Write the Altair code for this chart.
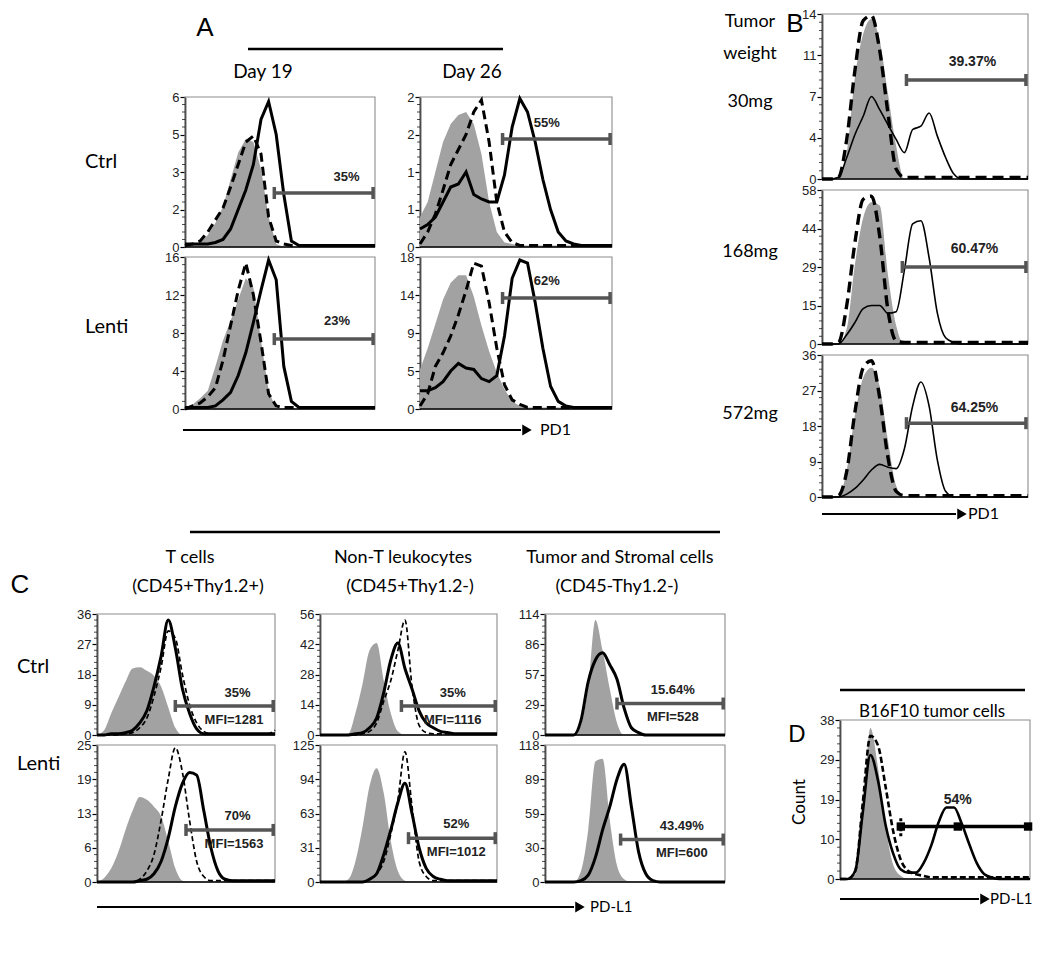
import altair as alt
import pandas as pd

FONT = "Liberation Sans"
HFONT = "Lato"

X_GRID = [0, 4, 8, 12, 16, 20, 24, 28, 32, 36, 40, 44, 48, 52, 56, 60, 64, 68, 72, 76, 80, 84, 88, 92, 96, 100]
MINOR = [5, 10, 15, 20, 30, 35, 40, 45, 55, 60, 65, 70, 80, 85, 90, 95]

# ---------------- Panel A (PD1, Day 19 / Day 26) ----------------
A_C19_TICKS = ["0", "2", "3", "5", "6"]
A_C19_GRAY = [0, 1, 3, 8, 16, 27, 45, 63, 72, 70, 52, 20, 2, 0, 0, 0, 0, 0, 0, 0, 0, 0, 0, 0, 0, 0]
A_C19_DASH = [1, 2, 4, 10, 18, 26, 40, 55, 70, 74, 62, 20, 4, 2, 1, 1, 1, 1, 1, 1, 1, 1, 1, 1, 1, 1]
A_C19_SOLID = [2, 2, 2, 2, 3, 5, 12, 25, 38, 55, 85, 97, 75, 35, 4, 1, 1, 1, 1, 1, 1, 1, 1, 1, 1, 1]

A_C26_TICKS = ["0", "1", "1", "2", "2"]
A_C26_GRAY = [20, 30, 50, 70, 82, 88, 90, 82, 62, 30, 10, 3, 2, 1, 1, 1, 1, 1, 1, 1, 1, 1, 1, 1, 1, 1]
A_C26_DASH = [2, 10, 22, 38, 55, 65, 75, 90, 98, 70, 30, 10, 3, 1, 1, 1, 1, 1, 1, 1, 1, 1, 1, 1, 1, 1]
A_C26_SOLID = [12, 15, 20, 30, 40, 42, 50, 35, 32, 30, 30, 48, 80, 99, 90, 70, 45, 25, 10, 4, 2, 1, 1, 1, 1, 1]

A_L19_TICKS = ["0", "4", "8", "12", "16"]
A_L19_GRAY = [0, 3, 7, 12, 28, 45, 58, 72, 86, 80, 45, 12, 0, 0, 0, 0, 0, 0, 0, 0, 0, 0, 0, 0, 0, 0]
A_L19_DASH = [0, 2, 4, 8, 14, 32, 55, 78, 96, 75, 44, 10, 2, 1, 1, 1, 1, 1, 1, 1, 1, 1, 1, 1, 1, 1]
A_L19_SOLID = [1, 1, 1, 1, 2, 6, 11, 22, 37, 57, 78, 98, 85, 28, 5, 1, 1, 1, 1, 1, 1, 1, 1, 1, 1, 1]

A_L26_TICKS = ["0", "5", "9", "14", "18"]
A_L26_GRAY = [26, 40, 56, 72, 83, 88, 88, 74, 55, 38, 24, 13, 5, 2, 1, 1, 1, 1, 1, 1, 1, 1, 1, 1, 1, 1]
A_L26_DASH = [2, 10, 28, 37, 48, 62, 78, 96, 94, 70, 40, 16, 6, 3, 1, 1, 1, 1, 1, 1, 1, 1, 1, 1, 1, 1]
A_L26_SOLID = [12, 12, 14, 18, 25, 30, 27, 26, 20, 18, 22, 48, 86, 98, 96, 70, 40, 15, 5, 2, 1, 1, 1, 1, 1, 1]

# ---------------- Panel B (tumor weight) ----------------
B30_TICKS = ["0", "4", "7", "11", "14"]
B30_GRAY = [0, 0, 0, 16, 62, 88, 97, 84, 52, 20, 0, 0, 0, 0, 0, 0, 0, 0, 0, 0, 0, 0, 0, 0, 0, 0]
B30_DASH = [0, 0, 1, 24, 66, 96, 99, 78, 40, 6, 1, 1, 1, 1, 1, 1, 1, 1, 1, 1, 1, 1, 1, 1, 1, 1]
B30_SOLID = [0, 0, 1, 13, 27, 38, 50, 42, 33, 24, 16, 30, 32, 40, 26, 13, 3, 0, 0, 0, 0, 0, 0, 0, 0, 0]

B168_TICKS = ["0", "15", "29", "44", "58"]
B168_GRAY = [0, 0, 0, 10, 52, 82, 92, 90, 45, 12, 0, 0, 0, 0, 0, 0, 0, 0, 0, 0, 0, 0, 0, 0, 0, 0]
B168_DASH = [0, 0, 1, 25, 66, 94, 96, 70, 22, 2, 1, 1, 1, 1, 1, 1, 1, 1, 1, 1, 1, 1, 1, 1, 1, 1]
B168_SOLID = [0, 0, 0, 6, 14, 23, 25, 25, 20, 21, 48, 78, 80, 56, 20, 4, 1, 0, 0, 0, 0, 0, 0, 0, 0, 0]

B572_TICKS = ["0", "9", "18", "27", "36"]
B572_GRAY = [0, 0, 0, 19, 58, 84, 91, 78, 40, 8, 0, 0, 0, 0, 0, 0, 0, 0, 0, 0, 0, 0, 0, 0, 0, 0]
B572_DASH = [0, 0, 1, 18, 60, 91, 96, 70, 28, 4, 1, 1, 1, 1, 1, 1, 1, 1, 1, 1, 1, 1, 1, 1, 1, 1]
B572_SOLID = [0, 0, 0, 2, 6, 12, 19, 23, 21, 20, 34, 64, 81, 64, 26, 4, 0, 0, 0, 0, 0, 0, 0, 0, 0, 0]

# ---------------- Panel C (PD-L1 by cell type) ----------------
CT_CTRL_TICKS = ["0", "9", "18", "27", "36"]
CT_CTRL_GRAY = [0, 4, 18, 31, 44, 55, 56, 53, 49, 40, 23, 6, 0, 0, 0, 0, 0, 0, 0, 0, 0, 0, 0, 0, 0, 0]
CT_CTRL_DASH = [0, 0, 0, 0, 1, 2, 6, 14, 32, 56, 86, 80, 50, 25, 10, 3, 1, 1, 1, 1, 1, 1, 1, 1, 1, 4]
CT_CTRL_SOLID = [0, 0, 1, 1, 2, 4, 10, 20, 40, 65, 95, 72, 38, 18, 5, 1, 1, 1, 1, 1, 1, 1, 1, 1, 1, 1]

CT_LENTI_TICKS = ["0", "6", "13", "19", "25"]
CT_LENTI_GRAY = [0, 3, 10, 22, 38, 52, 62, 60, 55, 48, 30, 10, 1, 0, 0, 0, 0, 0, 0, 0, 0, 0, 0, 0, 0, 0]
CT_LENTI_DASH = [0, 0, 0, 0, 0, 0, 2, 8, 20, 45, 75, 98, 80, 45, 15, 4, 1, 1, 1, 1, 1, 1, 1, 1, 1, 1]
CT_LENTI_SOLID = [0, 0, 0, 0, 0, 0, 1, 2, 6, 15, 32, 55, 72, 80, 78, 52, 25, 8, 2, 1, 1, 1, 1, 1, 1, 1]

CN_CTRL_TICKS = ["0", "14", "28", "42", "56"]
CN_CTRL_GRAY = [0, 0, 0, 0, 1, 18, 42, 70, 76, 45, 18, 3, 0, 0, 0, 0, 0, 0, 0, 0, 0, 0, 0, 0, 0, 0]
CN_CTRL_DASH = [0, 0, 0, 0, 0, 0, 1, 3, 10, 28, 45, 70, 95, 40, 8, 2, 1, 1, 1, 1, 1, 1, 1, 1, 1, 1]
CN_CTRL_SOLID = [0, 0, 0, 0, 0, 1, 2, 6, 14, 35, 62, 76, 55, 38, 20, 10, 6, 3, 2, 1, 1, 1, 1, 1, 1, 1]

CN_LENTI_TICKS = ["0", "31", "63", "94", "125"]
CN_LENTI_GRAY = [0, 0, 0, 0, 2, 15, 40, 70, 83, 65, 30, 8, 1, 0, 0, 0, 0, 0, 0, 0, 0, 0, 0, 0, 0, 0]
CN_LENTI_DASH = [0, 0, 0, 0, 0, 0, 0, 2, 6, 15, 35, 60, 95, 55, 15, 4, 1, 1, 1, 1, 1, 1, 1, 1, 1, 1]
CN_LENTI_SOLID = [0, 0, 0, 0, 0, 0, 0, 2, 6, 20, 38, 58, 72, 50, 25, 10, 4, 2, 1, 1, 1, 1, 1, 1, 1, 1]

CS_CTRL_TICKS = ["0", "29", "57", "86", "114"]
CS_CTRL_GRAY = [0, 0, 0, 0, 0, 8, 40, 95, 70, 38, 10, 0, 0, 0, 0, 0, 0, 0, 0, 0, 0, 0, 0, 0, 0, 0]
CS_CTRL_SOLID = [0, 0, 0, 0, 0, 12, 44, 62, 68, 58, 46, 22, 6, 2, 0, 0, 0, 0, 0, 0, 0, 0, 0, 0, 0, 0]

CS_LENTI_TICKS = ["0", "30", "59", "89", "118"]
CS_LENTI_GRAY = [0, 0, 0, 0, 0, 8, 38, 88, 90, 45, 12, 2, 0, 0, 0, 0, 0, 0, 0, 0, 0, 0, 0, 0, 0, 0]
CS_LENTI_SOLID = [0, 0, 0, 0, 0, 1, 5, 18, 38, 55, 75, 86, 55, 22, 6, 1, 0, 0, 0, 0, 0, 0, 0, 0, 0, 0]

# ---------------- Panel D (B16F10) ----------------
D_TICKS = ["0", "10", "19", "29", "38"]
D_GRAY = [0, 0, 3, 40, 95, 70, 33, 9, 2, 0, 0, 0, 0, 0, 0, 0, 0, 0, 0, 0, 0, 0, 0, 0, 0, 0]
D_DASH = [0, 0, 5, 48, 90, 84, 58, 30, 12, 5, 3, 2, 1, 1, 1, 1, 1, 1, 1, 1, 1, 1, 1, 1, 1, 1]
D_SOLID = [0, 0, 5, 42, 78, 62, 34, 16, 6, 4, 4, 10, 21, 36, 45, 45, 35, 22, 10, 3, 1, 0, 0, 0, 0, 0]

ONE = pd.DataFrame({"k": [0]})
OFF = 8  # page margin


def panel(box, ticks, gray, solid, dash, gate, labels, solid_w=2.8, dash_w=2.8,
          dash_pat=(9, 5), interp="linear", gate_color="#555555", squares=False,
          label_size=13, sq_mid=None):
    x0, y0, x1, y1 = [v - OFF for v in box]
    h = y1 - y0
    xs = alt.Scale(domain=[0, 100], range=[x0, x1], nice=False, zero=False)
    ys = alt.Scale(domain=[0, 100], range=[y1, y0], nice=False, zero=False)
    expr = "[" + ",".join("'%s'" % t for t in ticks) + "][round(datum.value/25)]"
    yax = alt.Axis(orient="left", offset=-x0, values=[0, 25, 50, 75, 100], labelExpr=expr,
                   title=None, grid=False, domainColor="black", domainWidth=1.6,
                   tickColor="black", tickSize=5, tickWidth=1.2, labelFont=FONT,
                   labelFontSize=13, labelColor="#222222", labelPadding=1,
                   labelFlush=False, labelBound=False, labelOverlap=False)

    def XF(f):
        return alt.X(f, scale=xs, axis=None)

    def YF(f):
        return alt.Y(f, scale=ys, axis=yax)

    def XD(v):
        return alt.XDatum(v, scale=xs, axis=None)

    def YD(v):
        return alt.YDatum(v, scale=ys, axis=yax)

    d = {"x": X_GRID, "g": gray, "s": solid}
    if dash is not None:
        d["d"] = dash
    df = pd.DataFrame(d)
    layers = []
    layers.append(alt.Chart(ONE).mark_rect(filled=False, stroke="#8c8c8c", strokeWidth=1.1).encode(
        x=XD(0), x2=alt.X2Datum(100), y=YD(0), y2=alt.Y2Datum(100)))
    layers.append(alt.Chart(df).mark_area(color="#a2a2a2", interpolate=interp).encode(
        x=XF("x:Q"), y=YF("g:Q")))
    if dash is not None:
        layers.append(alt.Chart(df).mark_line(color="black", strokeWidth=dash_w,
                                              strokeDash=list(dash_pat), interpolate=interp).encode(
            x=XF("x:Q"), y=YF("d:Q")))
    layers.append(alt.Chart(df).mark_line(color="black", strokeWidth=solid_w, interpolate=interp).encode(
        x=XF("x:Q"), y=YF("s:Q")))
    layers.append(alt.Chart(ONE).mark_rule(color="black", strokeWidth=1.6).encode(
        x=XD(0), x2=alt.X2Datum(100), y=YD(0)))
    layers.append(alt.Chart(pd.DataFrame({"m": MINOR})).mark_tick(
        orient="horizontal", size=3, thickness=1, color="black", xOffset=-1.5).encode(
        x=XD(0), y=YF("m:Q")))
    g1, g2, gy = gate
    c = 6.0 / h * 100
    layers.append(alt.Chart(ONE).mark_rule(color=gate_color, strokeWidth=3.5).encode(
        x=XD(g1), x2=alt.X2Datum(g2), y=YD(gy)))
    if squares:
        for gx in (g1, sq_mid, g2):
            layers.append(alt.Chart(ONE).mark_square(color="black", size=70, opacity=1).encode(
                x=XD(gx), y=YD(gy)))
        layers.append(alt.Chart(ONE).mark_rule(color=gate_color, strokeWidth=3, strokeDash=[3, 2]).encode(
            x=XD(g1), y=YD(gy - 1.6 * c), y2=alt.Y2Datum(gy + 1.6 * c)))
    else:
        for gx in (g1, g2):
            layers.append(alt.Chart(ONE).mark_rule(color=gate_color, strokeWidth=3.5).encode(
                x=XD(gx), y=YD(gy - c), y2=alt.Y2Datum(gy + c)))
    for t, lx, ly in labels:
        layers.append(alt.Chart(ONE).mark_text(font=FONT, fontWeight="bold", fontSize=label_size,
                                               color="#222222", baseline="middle").encode(
            x=XD(lx), y=YD(ly), text=alt.value(t)))
    return alt.layer(*layers)


def txt(s, x, y, size=17, align="center", font=HFONT, angle=0, weight="normal"):
    return alt.Chart(ONE).mark_text(text=s, fontSize=size, font=font, align=align,
                                    baseline="middle", angle=angle, fontWeight=weight,
                                    color="black").encode(x=alt.value(x - OFF), y=alt.value(y - OFF))


def hline(x1, x2, y, w=2.2):
    return alt.Chart(ONE).mark_rule(color="black", strokeWidth=w).encode(
        x=alt.value(x1 - OFF), x2=alt.value(x2 - OFF), y=alt.value(y - OFF))


def arrow(x1, x2, y):
    return [hline(x1, x2 - 6, y, 1.8),
            alt.Chart(ONE).mark_point(shape="triangle-right", filled=True, size=120, color="black",
                                      opacity=1).encode(x=alt.value(x2 - OFF), y=alt.value(y - OFF))]


A_STYLE = dict(solid_w=3.0, dash_w=3.0, dash_pat=(9, 5), interp="linear")
B_STYLE = dict(solid_w=1.6, dash_w=3.4, dash_pat=(11, 6), interp="monotone", label_size=14)
C_STYLE = dict(solid_w=3.0, dash_w=1.7, dash_pat=(5, 3), interp="monotone")

panels = [
    panel((185, 95, 375, 245), A_C19_TICKS, A_C19_GRAY, A_C19_SOLID, A_C19_DASH,
          (47, 99, 36), [("35%", 85, 47)], **A_STYLE),
    panel((420, 95, 612, 245), A_C26_TICKS, A_C26_GRAY, A_C26_SOLID, A_C26_DASH,
          (43, 99, 72), [("55%", 66, 83)], **A_STYLE),
    panel((185, 255, 375, 407), A_L19_TICKS, A_L19_GRAY, A_L19_SOLID, A_L19_DASH,
          (47, 99, 46), [("23%", 80, 58)], **A_STYLE),
    panel((420, 255, 612, 407), A_L26_TICKS, A_L26_GRAY, A_L26_SOLID, A_L26_DASH,
          (43, 99, 73), [("62%", 66, 84)], **A_STYLE),
    panel((822, 12, 1028, 177), B30_TICKS, B30_GRAY, B30_SOLID, B30_DASH,
          (41, 99, 60), [("39.37%", 73, 71)], **B_STYLE),
    panel((822, 188, 1028, 342), B168_TICKS, B168_GRAY, B168_SOLID, B168_DASH,
          (39, 99, 50), [("60.47%", 74, 62)], **B_STYLE),
    panel((822, 353, 1028, 495), B572_TICKS, B572_GRAY, B572_SOLID, B572_DASH,
          (41, 99, 52), [("64.25%", 74, 63)], **B_STYLE),
    panel((97, 612, 275, 733), CT_CTRL_TICKS, CT_CTRL_GRAY, CT_CTRL_SOLID, CT_CTRL_DASH,
          (44, 99, 24), [("35%", 79, 35), ("MFI=1281", 77, 12)], **C_STYLE),
    panel((97, 743, 275, 880), CT_LENTI_TICKS, CT_LENTI_GRAY, CT_LENTI_SOLID, CT_LENTI_DASH,
          (50, 99, 38), [("70%", 79, 48), ("MFI=1563", 77, 28)], **C_STYLE),
    panel((320, 612, 497, 733), CN_CTRL_TICKS, CN_CTRL_GRAY, CN_CTRL_SOLID, CN_CTRL_DASH,
          (46, 99, 24), [("35%", 75, 35), ("MFI=1116", 75, 12)], **C_STYLE),
    panel((320, 743, 497, 880), CN_LENTI_TICKS, CN_LENTI_GRAY, CN_LENTI_SOLID, CN_LENTI_DASH,
          (50, 99, 32), [("52%", 77, 42), ("MFI=1012", 77, 22)], **C_STYLE),
    panel((545, 612, 725, 733), CS_CTRL_TICKS, CS_CTRL_GRAY, CS_CTRL_SOLID, None,
          (40, 99, 26), [("15.64%", 71, 37), ("MFI=528", 71, 15)], **C_STYLE),
    panel((545, 743, 725, 880), CS_LENTI_TICKS, CS_LENTI_GRAY, CS_LENTI_SOLID, None,
          (42, 99, 31), [("43.49%", 76, 41), ("MFI=600", 76, 21)], **C_STYLE),
    panel((840, 718, 1030, 877), D_TICKS, D_GRAY, D_SOLID, D_DASH,
          (32, 99, 33), [("54%", 62, 50)], solid_w=2.6, dash_w=2.6, dash_pat=(6, 3),
          interp="monotone", gate_color="black", squares=True, label_size=14, sq_mid=62),
]

notes = [
    txt("A", 205, 26, 26, font=FONT),
    txt("B", 795, 22, 26, font=FONT),
    txt("C", 20, 583, 26, font=FONT),
    txt("D", 797, 733, 24, font=FONT),
    hline(248, 503, 47, 2.5),
    txt("Day 19", 263, 70, 19),
    txt("Day 26", 472, 70, 19),
    txt("Ctrl", 85, 160, 20, align="left"),
    txt("Lenti", 85, 325, 20, align="left"),
    txt("PD1", 540, 428, 16, align="left"),
    txt("Tumor", 750, 20, 18),
    txt("weight", 750, 52, 18),
    txt("30mg", 750, 100, 18),
    txt("168mg", 750, 250, 18),
    txt("572mg", 750, 412, 18),
    txt("PD1", 968, 512, 16, align="left"),
    hline(190, 720, 530, 2.5),
    txt("T cells", 190, 556, 18),
    txt("(CD45+Thy1.2+)", 198, 585, 18),
    txt("Non-T leukocytes", 403, 556, 18),
    txt("(CD45+Thy1.2-)", 410, 585, 18),
    txt("Tumor and Stromal cells", 620, 556, 18),
    txt("(CD45-Thy1.2-)", 617, 585, 18),
    txt("Ctrl", 17, 665, 20, align="left"),
    txt("Lenti", 17, 762, 20, align="left"),
    txt("PD-L1", 590, 905, 15, align="left"),
    hline(840, 1025, 688, 2.5),
    txt("B16F10 tumor cells", 932, 710, 17),
    txt("Count", 800, 800, 17, angle=270),
    txt("PD-L1", 990, 897, 15, align="left"),
]
notes += arrow(183, 527, 428)
notes += arrow(822, 962, 512)
notes += arrow(97, 580, 905)
notes += arrow(840, 985, 897)

chart = alt.layer(*panels, *notes).resolve_scale(
    x="independent", y="independent"
).properties(width=1034, height=945, padding=0).configure_view(stroke=None)

chart.save("out.html", embed_options={"renderer": "svg", "actions": False})
